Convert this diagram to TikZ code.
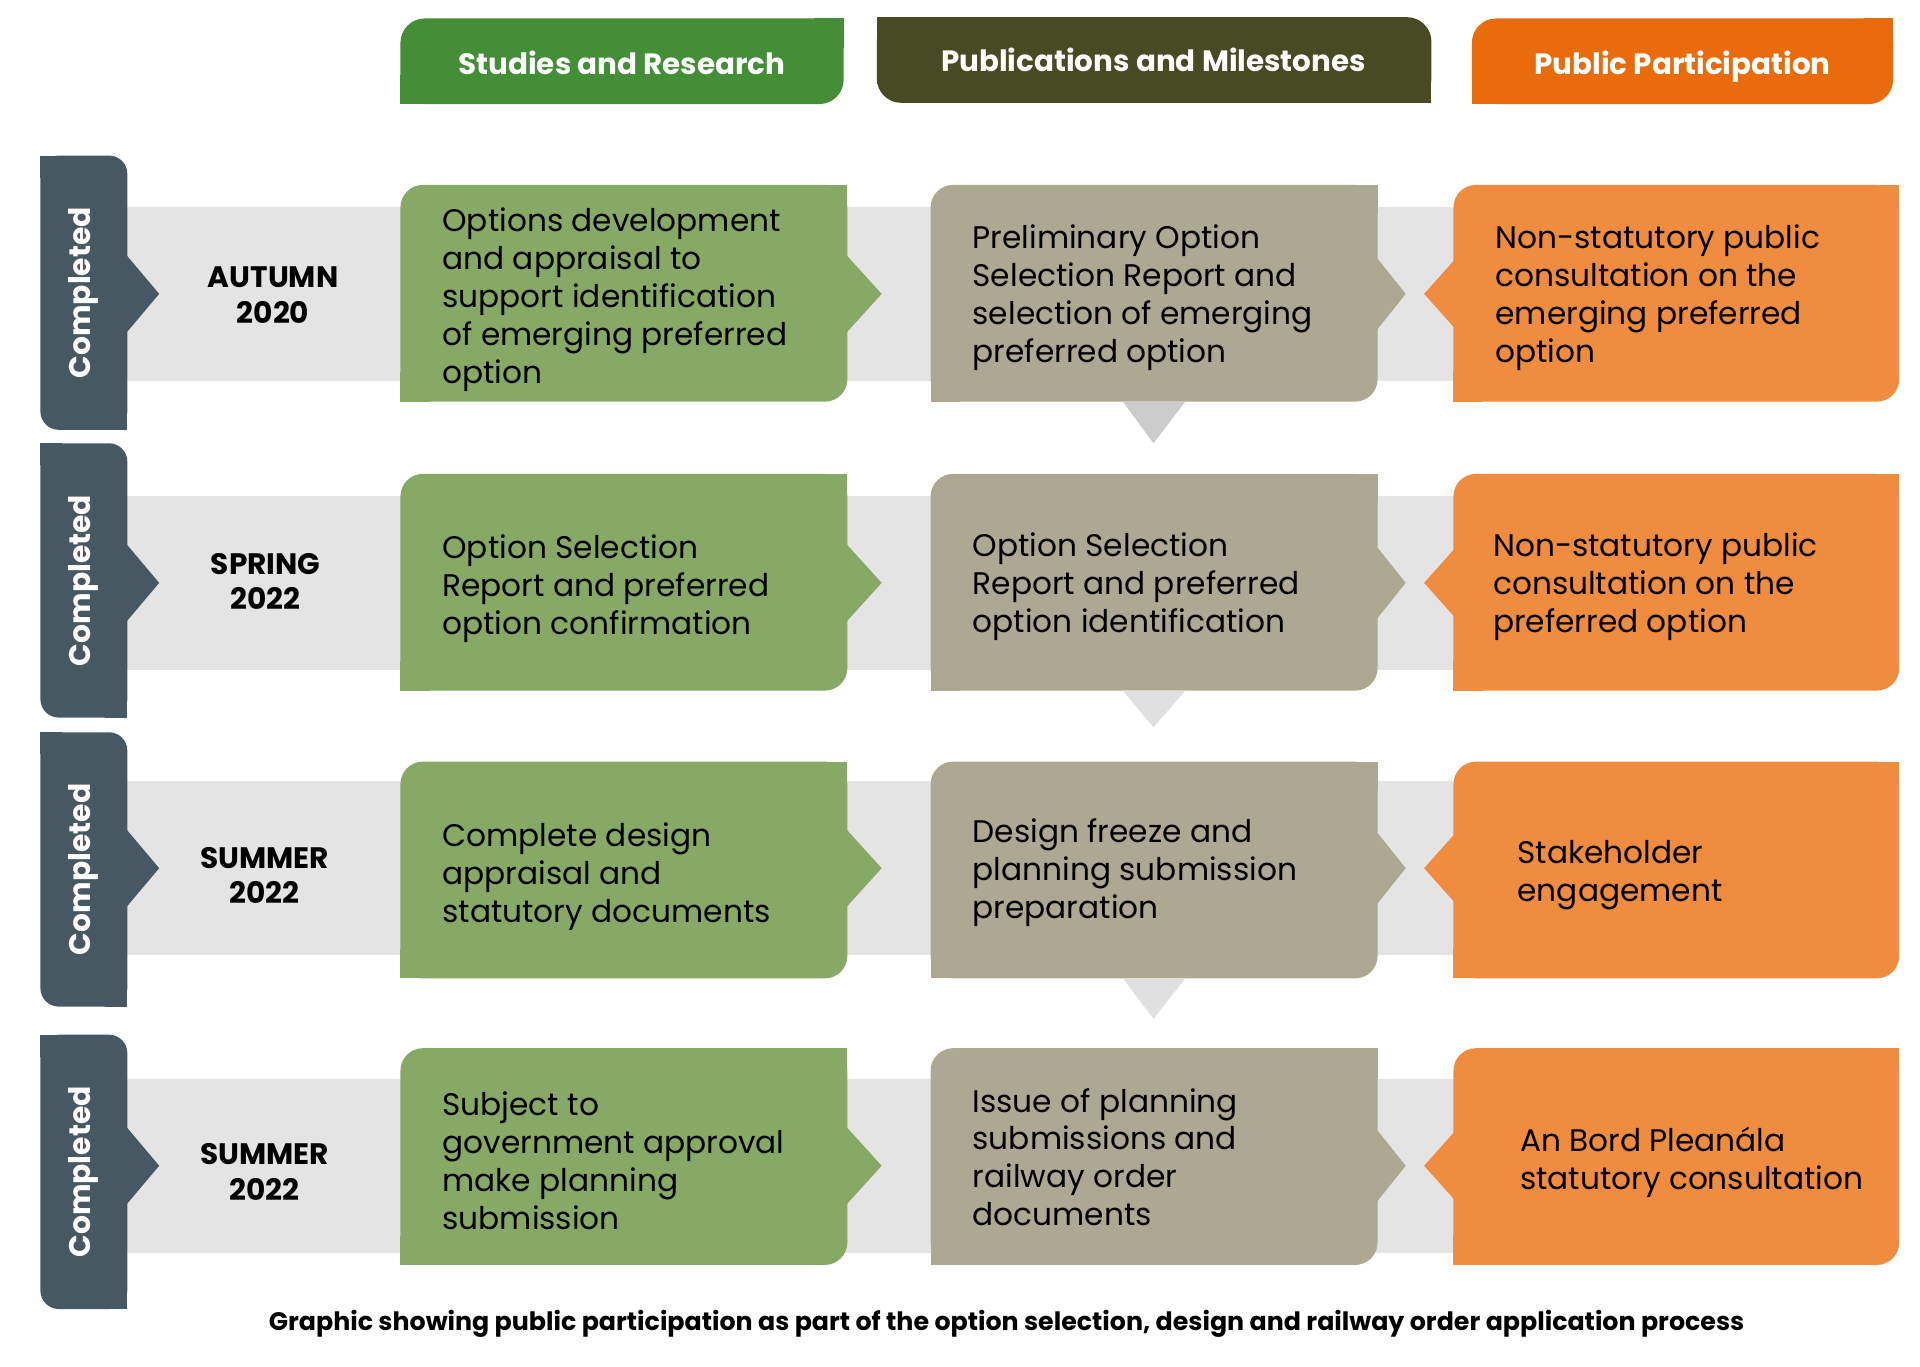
\documentclass[tikz,border=0pt]{standalone}
\usepackage{fontspec}
\setmainfont{Poppins}
\definecolor{hgreen}{HTML}{438E37}
\definecolor{holive}{HTML}{474A22}
\definecolor{horange}{HTML}{EA6B0C}
\definecolor{bgreen}{HTML}{86AA66}
\definecolor{bgray}{HTML}{ACA891}
\definecolor{borange}{HTML}{F08C3F}
\definecolor{tabc}{HTML}{475862}
\definecolor{bandc}{HTML}{E4E4E4}
\definecolor{trione}{HTML}{CCCCCC}
\definecolor{tritwo}{HTML}{E0E0E0}
\newcommand\rrTLBR[6]{\fill[#1,rounded corners=#6] (#2,#3) rectangle (#4,#5);
  \fill[#1] (#4,#3) rectangle ++(-24,24); \fill[#1] (#2,#5) rectangle ++(24,-24);}
\newcommand\rrTRBL[6]{\fill[#1,rounded corners=#6] (#2,#3) rectangle (#4,#5);
  \fill[#1] (#2,#3) rectangle ++(24,24); \fill[#1] (#4,#5) rectangle ++(-24,-24);}
\tikzset{
  boxtext/.style={anchor=west, align=left, inner sep=0pt, text=black,
    font=\fontsize{15.3}{18.6}\selectfont},
  headtext/.style={anchor=base, inner sep=0pt, text=white, font=\bfseries\fontsize{14.4}{16}\selectfont},
  yeartext/.style={inner sep=0pt, align=center, text=black,
    font=\bfseries\fontsize{14.5}{17.4}\selectfont},
  donetext/.style={inner sep=0pt, rotate=90, text=white, font=\bfseries\fontsize{14.6}{16}\selectfont},
}
\begin{document}
\begin{tikzpicture}[x=0.6pt,y=-0.6pt]
\useasboundingbox (0,0) rectangle (1568,1116);
% headers
\rrTLBR{hgreen}{327}{15}{689}{85}{12pt}
\rrTRBL{holive}{716}{14}{1169}{84}{12pt}
\rrTLBR{horange}{1202}{15}{1546}{85}{12pt}
\node[headtext] (h1) at (508,61) {Studies and Research};
\node[headtext] (h2) at (942,58) {Publications and Milestones};
\node[headtext] (h3) at (1374,61) {Public Participation};
% rows
\foreach \t/\m/\tt/\tb in {151/240/127/351, 387/476/362/586, 622/709/598/822, 856/952/845/1069}{
  \pgfmathsetmacro{\b}{\t+177}
  \fill[bandc] (104,\m-71) rectangle (1500,\m+71);
  \fill[tabc, rounded corners=9pt] (33,\tt) rectangle (104,\tb);
  \fill[tabc] (33,\tt) rectangle ++(18,18);
  \fill[tabc] (104,\tb) rectangle ++(-18,-18);
  \fill[tabc] (103,\m-32) -- (130,\m) -- (103,\m+32) -- cycle;
  \rrTLBR{bgreen}{327}{\t}{692}{\b}{11pt}
  \fill[bgreen] (691,\m-32) -- (720,\m) -- (691,\m+32) -- cycle;
  \rrTLBR{bgray}{760}{\t}{1125}{\b}{11pt}
  \fill[bgray] (1124,\m-30) -- (1148,\m) -- (1124,\m+30) -- cycle;
  \rrTLBR{borange}{1187}{\t}{1551}{\b}{11pt}
  \fill[borange] (1188,\m-28) -- (1163,\m) -- (1188,\m+28) -- cycle;
}
% down triangles
\fill[trione] (917,328) -- (968,328) -- (942,362) -- cycle;
\fill[tritwo] (917,564) -- (968,564) -- (942,594) -- cycle;
\fill[tritwo] (917,799) -- (968,799) -- (942,832) -- cycle;
% completed labels
\node[donetext] (c1) at (68,239) {Completed};
\node[donetext] (c2) at (68,474) {Completed};
\node[donetext] (c3) at (68,710) {Completed};
\node[donetext] (c4) at (68,957) {Completed};
% years
\node[yeartext] (y1) at (223,241) {AUTUMN\\2020};
\node[yeartext] (y2) at (217,475) {SPRING\\2022};
\node[yeartext] (y3) at (216,715) {SUMMER\\2022};
\node[yeartext] (y4) at (216,957) {SUMMER\\2022};
% row 1
\node[boxtext] (g1) at (361,245) {Options development\\and appraisal to\\support identification\\of emerging preferred\\option};
\node[boxtext] (p1) at (794,243) {Preliminary Option\\Selection Report and\\selection of emerging\\preferred option};
\node[boxtext] (o1) at (1221,243) {Non-statutory public\\consultation on the\\emerging preferred\\option};
% row 2
\node[boxtext] (g2) at (361,481) {Option Selection\\Report and preferred\\option confirmation};
\node[boxtext] (p2) at (794,479) {Option Selection\\Report and preferred\\option identification};
\node[boxtext] (o2) at (1219,479) {Non-statutory public\\consultation on the\\preferred option};
% row 3
\node[boxtext] (g3) at (361,716) {Complete design\\appraisal and\\statutory documents};
\node[boxtext] (p3) at (794,713) {Design freeze and\\planning submission\\preparation};
\node[boxtext] (o3) at (1239,715) {Stakeholder\\engagement};
% row 4
\node[boxtext] (g4) at (361,948) {Subject to\\government approval\\make planning\\submission};
\node[boxtext] (p4) at (794,945) {Issue of planning\\submissions and\\railway order\\documents};
\node[boxtext] (o4) at (1241,949) {An Bord Pleanála\\statutory consultation};
% caption
\node[inner sep=0pt, font=\bfseries\fontsize{12.4}{14}\selectfont] (cap) at (822,1081)
  {Graphic showing public participation as part of the option selection, design and railway order application process};
\end{tikzpicture}
\end{document}
